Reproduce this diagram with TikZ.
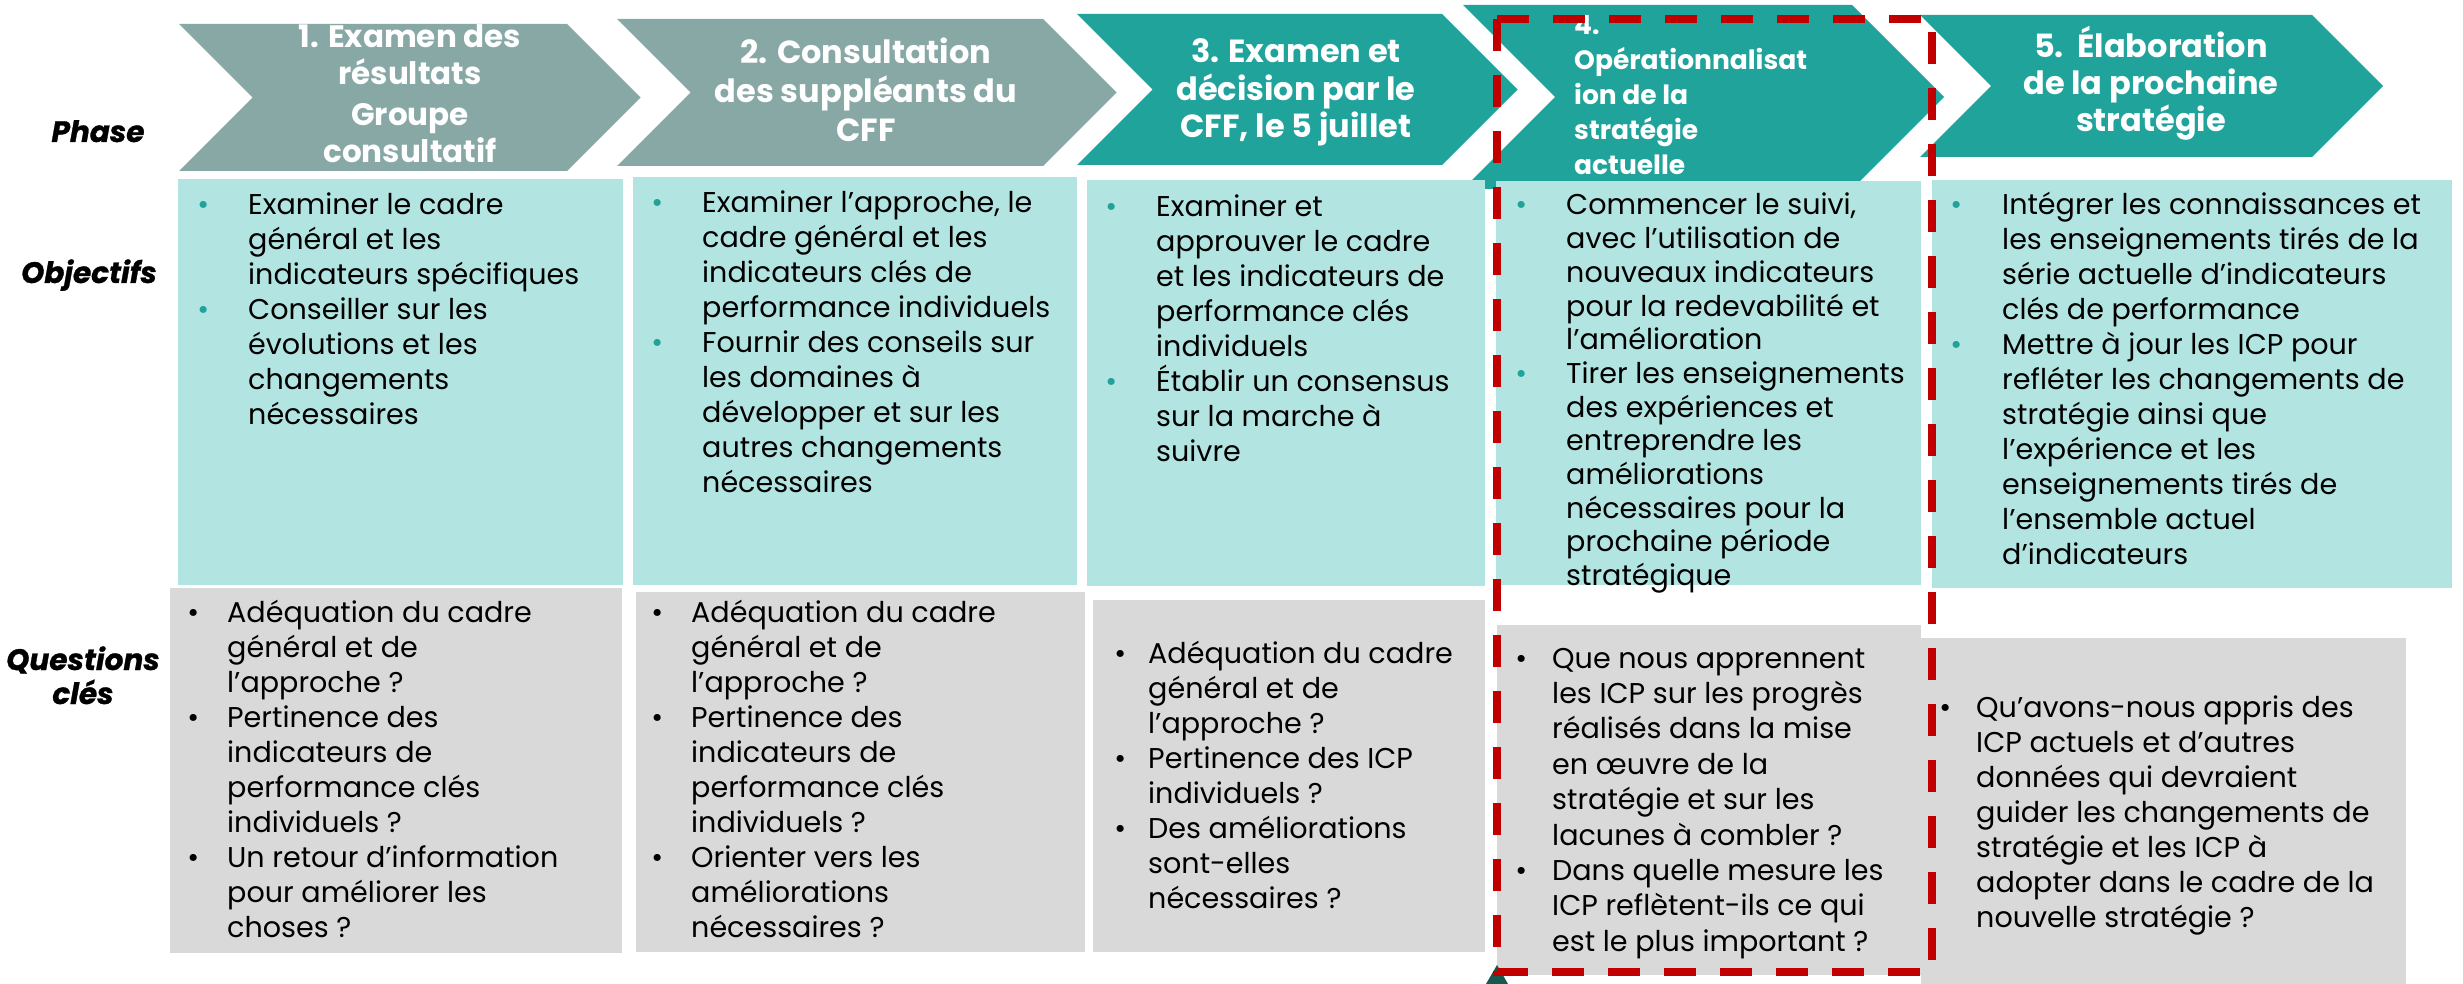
\documentclass[tikz,border=0pt]{standalone}
\usepackage{fontspec}
\setmainfont{Poppins}
\definecolor{chgray}{HTML}{88A8A6}
\definecolor{chteal}{HTML}{20A39B}
\definecolor{objbg}{HTML}{B2E5E1}
\definecolor{qbg}{HTML}{D9D9D9}
\definecolor{redd}{HTML}{C00000}
\definecolor{darkteal}{HTML}{17584F}
\newcommand{\bodyfont}{\fontsize{28.6}{35}\selectfont\raggedright}
\newcommand{\bt}[2]{\par\noindent\hangindent=#1pt\hangafter=1\makebox[0pt]{\textcolor{chteal}{•}}\hspace*{#1pt}\ignorespaces#2\par}
\newcommand{\bq}[2]{\par\noindent\hangindent=#1pt\hangafter=1\makebox[0pt]{•}\hspace*{#1pt}\ignorespaces#2\par}
\tikzset{
  chevA/.style={fill=chgray},
  chevB/.style={fill=chteal},
  objbox/.style={fill=objbg},
  qbox/.style={fill=qbg},
  txt/.style={anchor=base west, inner sep=0pt, text=black},
  chtext/.style={anchor=base, inner sep=0pt, text=white},
  lbl/.style={anchor=base, inner sep=0pt, font=\fontsize{29.5}{34}\selectfont\bfseries\itshape\addfontfeature{FakeBold=1}, align=center},
  focus/.style={draw=redd, line width=8pt, dash pattern=on 32pt off 24pt, line cap=butt}
}
\begin{document}
\begin{tikzpicture}[x=1pt,y=-1pt]
\fill[white] (0,0) rectangle (2463,984);
\path[use as bounding box] (0,0) rectangle (2463,984);
% chevrons
\fill[chevA] (179,24) -- (567,24) -- (640.5,97.5) -- (567,171) -- (179,171) -- (252.5,97.5) -- cycle;
\fill[chevA] (617,19) -- (1043,19) -- (1116.5,92.5) -- (1043,166) -- (617,166) -- (690.5,92.5) -- cycle;
\fill[chevB] (1077,14) -- (1442,14) -- (1517.5,89.5) -- (1442,165) -- (1077,165) -- (1152.5,89.5) -- cycle;
\fill[chevB] (1463,5) -- (1852,5) -- (1944,97) -- (1852,189) -- (1463,189) -- (1555,97) -- cycle;
\fill[chevB] (1920,15) -- (2312,15) -- (2383,86) -- (2312,157) -- (1920,157) -- (1991,86) -- cycle;
% chevron texts
\node[chtext] (h1) at (410,48) {\parbox[t]{400pt}{\centering\fontsize{31}{37}\selectfont\bfseries 1. Examen des\\ résultats\\[4pt] Groupe\\ consultatif}};
\node[chtext] (h2) at (866,64) {\parbox[t]{420pt}{\centering\fontsize{32}{39}\selectfont\bfseries 2. Consultation\\ des suppléants du\\ CFF}};
\node[chtext] (h3) at (1296,63) {\parbox[t]{400pt}{\centering\fontsize{32}{37.5}\selectfont\bfseries 3. Examen et\\ décision par le\\ CFF, le 5 juillet}};
\node[chtext, anchor=base west] (h4) at (1574,35) {\parbox[t]{400pt}{\raggedright\fontsize{26.5}{35}\selectfont\bfseries 4.\\ Opérationnalisat\\ ion de la\\ stratégie\\ actuelle}};
\node[chtext] (h5) at (2151,58) {\parbox[t]{400pt}{\centering\fontsize{32}{37}\selectfont\bfseries 5.\ \ Élaboration\\ de la prochaine\\ stratégie}};
% row labels
\node[lbl] (lphase) at (98,142) {Phase};
\node[lbl] (lobj) at (89,283) {Objectifs};
\node[lbl] (lq) at (83,704) {Questions\\clés};
% objective boxes
\fill[objbox] (178,179) rectangle (623,585);
\fill[objbox] (633,177) rectangle (1077,585);
\fill[objbox] (1087,180) rectangle (1485,586);
\fill[objbox] (1496,181) rectangle (1921,585);
\fill[objbox] (1932,180) rectangle (2452,588);
% question boxes
\fill[qbox] (170,588) rectangle (622,953);
\fill[qbox] (636,592) rectangle (1085,952);
\fill[qbox] (1093,600) rectangle (1485,952);
\fill[qbox] (1497,625) rectangle (1921,975);
\fill[qbox] (1921,638) rectangle (2406,984);
% objective texts
\node[txt] (o1) at (203,215) {\parbox[t]{600pt}{\bodyfont
\bt{45}{Examiner le cadre\newline général et les\newline indicateurs spécifiques}
\bt{45}{Conseiller sur les\newline évolutions et les\newline changements\newline nécessaires}}};
\node[txt] (o2) at (657,213) {\parbox[t]{600pt}{\bodyfont
\bt{45}{Examiner l’approche, le\newline cadre général et les\newline indicateurs clés de\newline performance individuels}
\bt{45}{Fournir des conseils sur\newline les domaines à\newline développer et sur les\newline autres changements\newline nécessaires}}};
\node[txt] (o3) at (1111,217) {\parbox[t]{600pt}{\bodyfont
\bt{45}{Examiner et\newline approuver le cadre\newline et les indicateurs de\newline performance clés\newline individuels}
\bt{45}{Établir un consensus\newline sur la marche à\newline suivre}}};
\node[txt] (o4) at (1521,215) {\parbox[t]{600pt}{\fontsize{28.6}{33.7}\selectfont\raggedright
\bt{45}{Commencer le suivi,\newline avec l’utilisation de\newline nouveaux indicateurs\newline pour la redevabilité et\newline l’amélioration}
\bt{45}{Tirer les enseignements\newline des expériences et\newline entreprendre les\newline améliorations\newline nécessaires pour la\newline prochaine période\newline stratégique}}};
\node[txt] (o5) at (1956,215) {\parbox[t]{600pt}{\bodyfont
\bt{46}{Intégrer les connaissances et\newline les enseignements tirés de la\newline série actuelle d’indicateurs\newline clés de performance}
\bt{46}{Mettre à jour les ICP pour\newline refléter les changements de\newline stratégie ainsi que\newline l’expérience et les\newline enseignements tirés de\newline l’ensemble actuel\newline d’indicateurs}}};
% question texts
\node[txt] (q1) at (193,622) {\parbox[t]{600pt}{\bodyfont
\bq{34}{Adéquation du cadre\newline général et de\newline l’approche~?}
\bq{34}{Pertinence des\newline indicateurs de\newline performance clés\newline individuels~?}
\bq{34}{Un retour d’information\newline pour améliorer les\newline choses~?}}};
\node[txt] (q2) at (657,622) {\parbox[t]{600pt}{\bodyfont
\bq{34}{Adéquation du cadre\newline général et de\newline l’approche~?}
\bq{34}{Pertinence des\newline indicateurs de\newline performance clés\newline individuels~?}
\bq{34}{Orienter vers les\newline améliorations\newline nécessaires~?}}};
\node[txt] (q3) at (1120,663) {\parbox[t]{600pt}{\bodyfont
\bq{28}{Adéquation du cadre\newline général et de\newline l’approche~?}
\bq{28}{Pertinence des ICP\newline individuels~?}
\bq{28}{Des améliorations\newline sont-elles\newline nécessaires~?}}};
\node[txt] (q4) at (1521,668) {\parbox[t]{600pt}{\fontsize{28.6}{35.4}\selectfont\raggedright
\bq{31}{Que nous apprennent\newline les ICP sur les progrès\newline réalisés dans la mise\newline en œuvre de la\newline stratégie et sur les\newline lacunes à combler~?}
\bq{31}{Dans quelle mesure les\newline ICP reflètent-ils ce qui\newline est le plus important~?}}};
\node[txt] (q5) at (1945,717) {\parbox[t]{600pt}{\bodyfont
\bq{31}{Qu’avons-nous appris des\newline ICP actuels et d’autres\newline données qui devraient\newline guider les changements de\newline stratégie et les ICP à\newline adopter dans le cadre de la\newline nouvelle stratégie~?}}};
% dark marker at bottom
\fill[darkteal] (1497,965) -- (1508,984) -- (1486,984) -- cycle;
% focus frame
\draw[focus] (1497,19) -- (1932,19) -- (1932,972) -- (1497,972) -- cycle;
\end{tikzpicture}
\end{document}
